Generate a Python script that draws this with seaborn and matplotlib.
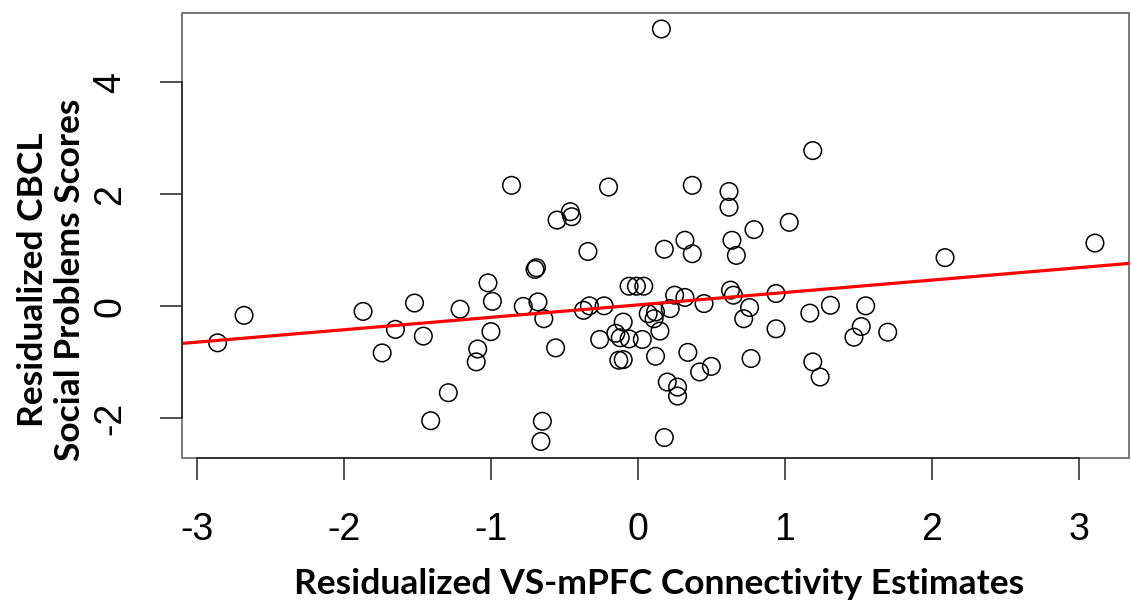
import numpy as np
import matplotlib
matplotlib.use("Agg")
import matplotlib.pyplot as plt
import seaborn as sns

# residualized VS-mPFC connectivity (x) and CBCL social problems (y)
conn = [-2.86, -2.68, -1.87, -1.65, -1.74, -1.52, -1.46, -1.29, -1.41, -1.21,
        -1.02, -0.99, -1.00, -1.09, -1.10, -0.86, -0.78, -0.70, -0.69, -0.68,
        -0.64, -0.56, -0.65, -0.66, -0.55, -0.46, -0.45, -0.34, -0.37, -0.33,
        -0.23, -0.26, -0.20, -0.10, -0.15, -0.12, -0.06, 0.03, -0.13, -0.10,
        -0.06, -0.01, 0.04, 0.07, 0.12, 0.11, 0.15, 0.12, 0.16, 0.18,
        0.18, 0.25, 0.32, 0.22, 0.20, 0.27, 0.27, 0.32, 0.37, 0.37,
        0.34, 0.42, 0.45, 0.50, 0.62, 0.62, 0.64, 0.67, 0.63, 0.65,
        0.72, 0.76, 0.77, 0.79, 0.94, 0.94, 1.03, 1.17, 1.19, 1.19,
        1.24, 1.31, 1.47, 1.52, 1.55, 1.70, 2.09, 3.11]
cbcl = [-0.65, -0.16, -0.09, -0.41, -0.83, 0.06, -0.53, -1.54, -2.04, -0.05,
        0.42, 0.09, -0.45, -0.76, -0.99, 2.16, 0.00, 0.66, 0.69, 0.08,
        -0.22, -0.74, -2.05, -2.41, 1.54, 1.69, 1.60, 0.98, -0.07, 0.01,
        0.01, -0.59, 2.13, -0.28, -0.48, -0.56, -0.58, -0.59, -0.96, -0.95,
        0.36, 0.36, 0.36, -0.13, -0.10, -0.22, -0.44, -0.89, 4.95, 1.02,
        -2.34, 0.20, 0.16, -0.04, -1.35, -1.44, -1.60, 1.18, 0.94, 2.16,
        -0.82, -1.17, 0.05, -1.07, 2.05, 1.77, 1.18, 0.91, 0.29, 0.20,
        -0.22, -0.02, -0.93, 1.37, 0.23, -0.40, 1.50, -0.12, 2.78, -0.99,
        -1.26, 0.02, -0.55, -0.36, 0.01, -0.46, 0.87, 1.13]

x_ticks = [-3, -2, -1, 0, 1, 2, 3]
y_ticks = [-2, 0, 2, 4]

sns.set_style("white")
plt.rcParams["font.family"] = ["Liberation Sans", "DejaVu Sans"]

fig = plt.figure(figsize=(11.31, 6.06), dpi=100)
ax = fig.add_axes([0.1612, 0.2447, 0.8368, 0.7343])

ax.set_xlim(-3.10, 3.34)
ax.set_ylim(-2.70, 5.24)

sns.regplot(x=conn, y=cbcl, ax=ax, ci=None, truncate=False, marker="o",
            scatter_kws=dict(facecolors="none", edgecolors="black", s=160,
                             linewidths=1.1, alpha=1),
            line_kws=dict(color="red", linewidth=2.3))

ax.set_xlim(-3.10, 3.34)
ax.set_ylim(-2.70, 5.24)

# R style: grey box, axis lines only between first and last tick
ax.patch.set_edgecolor("#6e6e6e")
ax.patch.set_linewidth(1.3)
for s in ["top", "right"]:
    ax.spines[s].set_visible(False)
for s in ["left", "bottom"]:
    ax.spines[s].set_color("#222222")
    ax.spines[s].set_linewidth(1.1)
ax.spines["bottom"].set_bounds(-3, 3)
ax.spines["left"].set_bounds(-2, 4)

ax.set_xticks(x_ticks)
ax.set_yticks(y_ticks)
ax.set_xticklabels([str(v) for v in x_ticks])
ax.set_yticklabels([str(v) for v in y_ticks], rotation=90, va="center")
ax.tick_params(bottom=True, left=True, direction="out", length=16, width=1.1,
               color="#222222", labelsize=27, pad=23, labelcolor="black")

title_font = dict(family=["Lato", "DejaVu Sans"], weight="bold", size=25.5,
                  color="black")
ax.set_xlabel("Residualized VS-mPFC Connectivity Estimates", va="center",
              **title_font)
ax.xaxis.set_label_coords(0.504, -0.284)
ax.set_ylabel("Residualized CBCL\nSocial Problems Scores", linespacing=1.2,
              va="center", **title_font)
ax.yaxis.set_label_coords(-0.138, 0.40)

fig.savefig("out.png", dpi=100)
